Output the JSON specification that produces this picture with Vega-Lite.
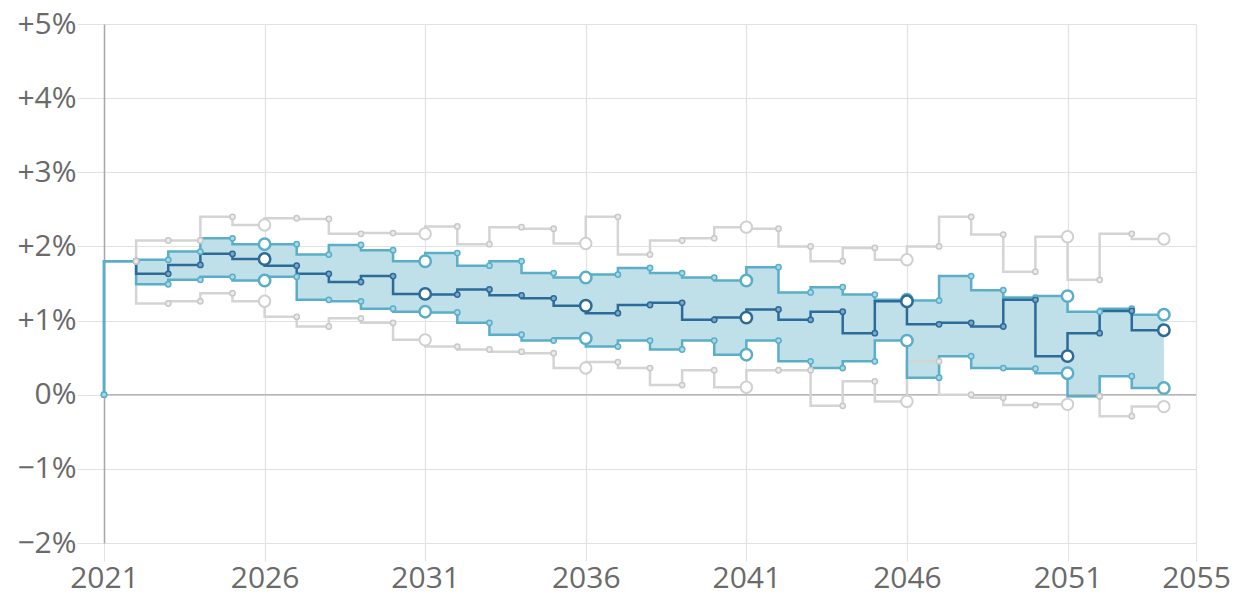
{
  "$schema": "https://vega.github.io/schema/vega-lite/v6.json",
  "width": 1092,
  "height": 519,
  "autosize": {"type": "none"},
  "padding": {"left": 104, "top": 24, "right": 52, "bottom": 63},
  "background": "white",
  "config": {"view": {"stroke": null}, "font": "Open Sans", "point": {"opacity": 1}},
  "datasets": {
    "d": [
      {"year": 2021, "g_hi": null, "b_hi": 0, "med": null, "b_lo": 0, "g_lo": null},
      {"year": 2022, "g_hi": 1.80, "b_hi": 1.80, "med": 1.80, "b_lo": 1.80, "g_lo": 1.80},
      {"year": 2023, "g_hi": 2.08, "b_hi": 1.82, "med": 1.63, "b_lo": 1.49, "g_lo": 1.23},
      {"year": 2024, "g_hi": 2.08, "b_hi": 1.93, "med": 1.75, "b_lo": 1.55, "g_lo": 1.26},
      {"year": 2025, "g_hi": 2.40, "b_hi": 2.11, "med": 1.90, "b_lo": 1.59, "g_lo": 1.37},
      {"year": 2026, "g_hi": 2.29, "b_hi": 2.03, "med": 1.83, "b_lo": 1.54, "g_lo": 1.26},
      {"year": 2027, "g_hi": 2.38, "b_hi": 2.03, "med": 1.74, "b_lo": 1.59, "g_lo": 1.05},
      {"year": 2028, "g_hi": 2.37, "b_hi": 1.89, "med": 1.63, "b_lo": 1.28, "g_lo": 0.92},
      {"year": 2029, "g_hi": 2.17, "b_hi": 2.02, "med": 1.52, "b_lo": 1.26, "g_lo": 1.03},
      {"year": 2030, "g_hi": 2.18, "b_hi": 1.95, "med": 1.60, "b_lo": 1.16, "g_lo": 0.97},
      {"year": 2031, "g_hi": 2.17, "b_hi": 1.80, "med": 1.36, "b_lo": 1.12, "g_lo": 0.74},
      {"year": 2032, "g_hi": 2.27, "b_hi": 1.91, "med": 1.35, "b_lo": 1.11, "g_lo": 0.65},
      {"year": 2033, "g_hi": 2.03, "b_hi": 1.74, "med": 1.42, "b_lo": 0.97, "g_lo": 0.61},
      {"year": 2034, "g_hi": 2.26, "b_hi": 1.80, "med": 1.34, "b_lo": 0.81, "g_lo": 0.58},
      {"year": 2035, "g_hi": 2.24, "b_hi": 1.64, "med": 1.30, "b_lo": 0.73, "g_lo": 0.56},
      {"year": 2036, "g_hi": 2.04, "b_hi": 1.58, "med": 1.20, "b_lo": 0.76, "g_lo": 0.36},
      {"year": 2037, "g_hi": 2.40, "b_hi": 1.62, "med": 1.10, "b_lo": 0.65, "g_lo": 0.44},
      {"year": 2038, "g_hi": 1.89, "b_hi": 1.71, "med": 1.21, "b_lo": 0.73, "g_lo": 0.36},
      {"year": 2039, "g_hi": 2.08, "b_hi": 1.64, "med": 1.24, "b_lo": 0.61, "g_lo": 0.13},
      {"year": 2040, "g_hi": 2.11, "b_hi": 1.58, "med": 1.01, "b_lo": 0.73, "g_lo": 0.33},
      {"year": 2041, "g_hi": 2.26, "b_hi": 1.54, "med": 1.04, "b_lo": 0.54, "g_lo": 0.10},
      {"year": 2042, "g_hi": 2.24, "b_hi": 1.72, "med": 1.15, "b_lo": 0.73, "g_lo": 0.33},
      {"year": 2043, "g_hi": 2.00, "b_hi": 1.38, "med": 1.01, "b_lo": 0.45, "g_lo": 0.33},
      {"year": 2044, "g_hi": 1.80, "b_hi": 1.45, "med": 1.12, "b_lo": 0.36, "g_lo": -0.15},
      {"year": 2045, "g_hi": 1.98, "b_hi": 1.35, "med": 0.83, "b_lo": 0.45, "g_lo": 0.18},
      {"year": 2046, "g_hi": 1.82, "b_hi": 1.28, "med": 1.26, "b_lo": 0.73, "g_lo": -0.09},
      {"year": 2047, "g_hi": 2.00, "b_hi": 1.27, "med": 0.95, "b_lo": 0.23, "g_lo": 0.45},
      {"year": 2048, "g_hi": 2.40, "b_hi": 1.60, "med": 0.97, "b_lo": 0.52, "g_lo": 0.00},
      {"year": 2049, "g_hi": 2.16, "b_hi": 1.41, "med": 0.92, "b_lo": 0.36, "g_lo": -0.04},
      {"year": 2050, "g_hi": 1.66, "b_hi": 1.31, "med": 1.28, "b_lo": 0.35, "g_lo": -0.14},
      {"year": 2051, "g_hi": 2.13, "b_hi": 1.33, "med": 0.52, "b_lo": 0.29, "g_lo": -0.13},
      {"year": 2052, "g_hi": 1.55, "b_hi": 1.12, "med": 0.83, "b_lo": -0.02, "g_lo": -0.02},
      {"year": 2053, "g_hi": 2.17, "b_hi": 1.16, "med": 1.13, "b_lo": 0.25, "g_lo": -0.29},
      {"year": 2054, "g_hi": 2.10, "b_hi": 1.08, "med": 0.87, "b_lo": 0.09, "g_lo": -0.16}
    ],
    "zero": [{"v": 0}]
  },
  "data": {"name": "d"},
  "encoding": {
    "x": {
      "field": "year", "type": "quantitative",
      "scale": {"domain": [2021, 2055], "nice": false, "zero": false},
      "axis": {
        "title": null, "values": [2021, 2026, 2031, 2036, 2041, 2046, 2051, 2055],
        "format": "d", "grid": true, "gridColor": "#e2e2e2", "gridWidth": 1.2,
        "domain": false, "ticks": true, "tickColor": "#e2e2e2", "tickSize": 18,
        "labelFontSize": 30, "labelColor": "#6a6a6a", "labelPadding": 2,
        "labelFlush": false, "labelOverlap": false
      }
    }
  },
  "layer": [
    {
      "mark": {"type": "area", "interpolate": "step-before", "color": "#bfdfe9", "opacity": 1},
      "encoding": {
        "y": {
          "field": "b_hi", "type": "quantitative",
          "scale": {"domain": [-2, 5], "nice": false, "zero": false},
          "axis": {
            "title": null, "values": [-2, -1, 0, 1, 2, 3, 4, 5],
            "labelExpr": "datum.value > 0 ? '+' + datum.value + '%' : (datum.value < 0 ? '\u2212' + abs(datum.value) + '%' : '0%')",
            "grid": true, "gridColor": "#e2e2e2", "gridWidth": 1.2,
            "domain": true, "domainColor": "#a8a8a8", "domainWidth": 1.5,
            "ticks": true, "tickColor": "#e2e2e2", "tickSize": 27,
            "labelFontSize": 30, "labelColor": "#6a6a6a", "labelPadding": 1,
            "labelFlush": false, "labelOverlap": false
          }
        },
        "y2": {"field": "b_lo"}
      }
    },
    {
      "data": {"name": "zero"},
      "mark": {"type": "rule", "color": "#b8b8b8", "strokeWidth": 1.5},
      "encoding": {"y": {"field": "v", "type": "quantitative"}, "x": null}
    },
    {
      "mark": {"type": "line", "interpolate": "step-before", "color": "#d4d4d4", "strokeWidth": 2.5},
      "encoding": {"y": {"field": "g_hi", "type": "quantitative"}}
    },
    {
      "mark": {"type": "line", "interpolate": "step-before", "color": "#d4d4d4", "strokeWidth": 2.5},
      "encoding": {"y": {"field": "g_lo", "type": "quantitative"}}
    },
    {
      "mark": {"type": "line", "interpolate": "step-before", "color": "#5aaec8", "strokeWidth": 2.5},
      "encoding": {"y": {"field": "b_hi", "type": "quantitative"}}
    },
    {
      "mark": {"type": "line", "interpolate": "step-before", "color": "#5aaec8", "strokeWidth": 2.5},
      "encoding": {"y": {"field": "b_lo", "type": "quantitative"}}
    },
    {
      "mark": {"type": "line", "interpolate": "step-before", "color": "#2c6a97", "strokeWidth": 2.5},
      "encoding": {"y": {"field": "med", "type": "quantitative"}}
    },
    {
      "mark": {"type": "point", "shape": "circle", "filled": true, "opacity": 1, "size": 28, "fill": "#a9d8e6", "stroke": "#5aaec8", "strokeWidth": 1.5},
      "encoding": {"y": {"field": "b_hi", "type": "quantitative"}}
    },
    {
      "mark": {"type": "point", "shape": "circle", "filled": true, "opacity": 1, "size": 28, "fill": "#a9d8e6", "stroke": "#5aaec8", "strokeWidth": 1.5},
      "encoding": {"y": {"field": "b_lo", "type": "quantitative"}}
    },
    {
      "mark": {"type": "point", "shape": "circle", "filled": true, "opacity": 1, "size": 28, "fill": "#7fa8c8", "stroke": "#2c6a97", "strokeWidth": 1.5},
      "encoding": {"y": {"field": "med", "type": "quantitative"}}
    },
    {
      "mark": {"type": "point", "shape": "circle", "filled": true, "opacity": 1, "size": 28, "fill": "#ececec", "stroke": "#c8c8c8", "strokeWidth": 1.5},
      "encoding": {"y": {"field": "g_hi", "type": "quantitative"}}
    },
    {
      "mark": {"type": "point", "shape": "circle", "filled": true, "opacity": 1, "size": 28, "fill": "#ececec", "stroke": "#c8c8c8", "strokeWidth": 1.5},
      "encoding": {"y": {"field": "g_lo", "type": "quantitative"}}
    },
    {
      "transform": [{"filter": "(datum.year % 5 == 1 && datum.year > 2021) || datum.year == 2054"}],
      "layer": [
        {
          "mark": {"type": "point", "shape": "circle", "filled": true, "opacity": 1, "size": 130, "fill": "white", "stroke": "#d0d0d0", "strokeWidth": 2},
          "encoding": {"y": {"field": "g_hi", "type": "quantitative"}}
        },
        {
          "mark": {"type": "point", "shape": "circle", "filled": true, "opacity": 1, "size": 130, "fill": "white", "stroke": "#d0d0d0", "strokeWidth": 2},
          "encoding": {"y": {"field": "g_lo", "type": "quantitative"}}
        },
        {
          "mark": {"type": "point", "shape": "circle", "filled": true, "opacity": 1, "size": 130, "fill": "white", "stroke": "#5aaec8", "strokeWidth": 2.5},
          "encoding": {"y": {"field": "b_hi", "type": "quantitative"}}
        },
        {
          "mark": {"type": "point", "shape": "circle", "filled": true, "opacity": 1, "size": 130, "fill": "white", "stroke": "#5aaec8", "strokeWidth": 2.5},
          "encoding": {"y": {"field": "b_lo", "type": "quantitative"}}
        },
        {
          "mark": {"type": "point", "shape": "circle", "filled": true, "opacity": 1, "size": 130, "fill": "white", "stroke": "#2c6a97", "strokeWidth": 2.5},
          "encoding": {"y": {"field": "med", "type": "quantitative"}}
        }
      ]
    }
  ]
}
